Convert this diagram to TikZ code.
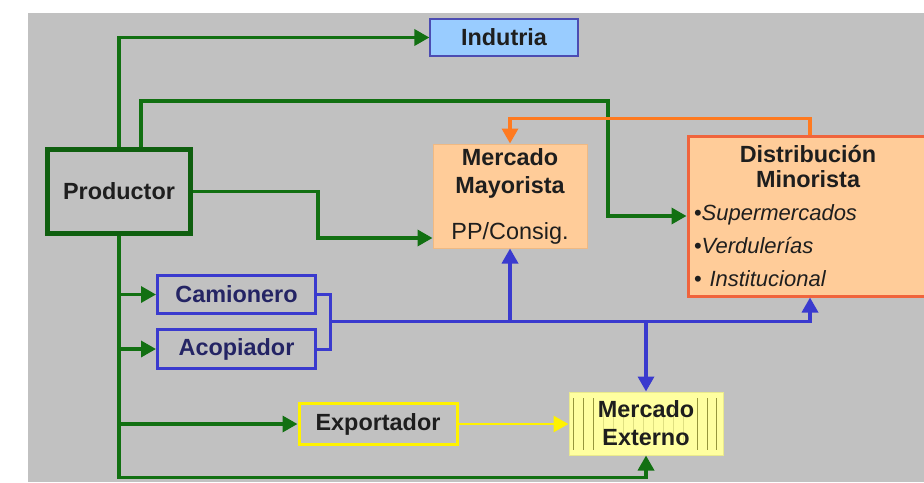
\documentclass[tikz,border=0pt]{standalone}
\usepackage{fontspec}
\setmainfont{Liberation Sans}
\usetikzlibrary{arrows.meta,calc}
\definecolor{bggray}{RGB}{193,193,193}
\definecolor{prodgreen}{RGB}{18,112,18}
\definecolor{midblue}{RGB}{58,58,206}
\definecolor{darknavy}{RGB}{36,36,100}
\definecolor{peach}{RGB}{255,204,153}
\definecolor{skyblue}{RGB}{153,204,255}
\definecolor{redorange}{RGB}{240,100,60}
\definecolor{arroworange}{RGB}{255,122,32}
\definecolor{paleyellow}{RGB}{255,255,160}
\definecolor{stripeolive}{RGB}{150,150,60}
\definecolor{textdark}{RGB}{30,30,30}

\begin{document}
\begin{tikzpicture}[x=0.5pt, y=-0.5pt, font=\fontsize{11.7}{14}\selectfont\bfseries, text=textdark,
    box/.style={draw, rectangle, align=center, inner sep=0pt},
    tip/.style={-{Triangle[length=7.5pt,width=8pt]}},
    garrow/.style={draw=prodgreen, line width=1.7pt, tip},
    barrow/.style={draw=midblue, line width=1.7pt, tip},
    stripe/.style={draw=stripeolive, line width=0.5pt}]

    \useasboundingbox (0,0) rectangle (924,482);
    \clip (0,0) rectangle (924,482);
    \fill[bggray] (28,13) rectangle (924,482);

    \node[box, fill=skyblue, draw=gray!60!blue, line width=0.6pt, minimum width=74pt, minimum height=18.5pt] (ind) at (504,37.5) {Indutria};

    \node[box, fill=bggray, draw=prodgreen!85!black, line width=2.5pt, minimum width=71.5pt, minimum height=42pt] (prod) at (119,191.5) {Productor};

    \node[box, fill=peach, draw=peach!75!brown, line width=0.5pt, minimum width=77pt, minimum height=52pt] (may) at (510,196) {Mercado\\Mayorista\\[9pt]{\mdseries PP/Consig.}};

    \node[draw=redorange, fill=peach, line width=1.5pt, text width=126pt, inner xsep=3pt, minimum height=80pt] (dist) at (820,216) {\centering\fontsize{11.7}{12.5}\selectfont\hspace*{-12pt}Distribución\\\hspace*{-12pt}Minorista\par
        \raggedright\mdseries\itshape\fontsize{11}{16.5}\selectfont {\upshape•}Supermercados\\{\upshape•}Verdulerías\\{\upshape•} Institucional\par};

    \node[box, fill=bggray, draw=midblue, line width=1.5pt, text=darknavy, minimum width=79pt, minimum height=19pt] (cam) at (236.5,294.5) {Camionero};

    \node[box, fill=bggray, draw=midblue, line width=1.5pt, text=darknavy, minimum width=79pt, minimum height=19.5pt] (aco) at (236.5,349) {Acopiador};

    \node[box, fill=bggray, draw=yellow, line width=1.5pt, minimum width=79pt, minimum height=20.5pt] (exp) at (378,424) {Exportador};

    \node[box, fill=paleyellow, draw=paleyellow!80!stripeolive, line width=0.5pt, minimum width=77pt, minimum height=31.5pt,
        path picture={
            \foreach \dx in {4,14,24,128,138,147}
                \draw[stripe] ($(path picture bounding box.north west)+(\dx,6)$) -- ++(0,52);
            \foreach \dx in {34,44,54,64,74,84,94,104,114}
                \draw[stripe, opacity=0.3] ($(path picture bounding box.north west)+(\dx,14)$) -- ++(0,36);
        }] (ext) at (646,423.5) {Mercado\\Externo};

    \draw[garrow] (prod.north) |- (ind.west);
    \draw[garrow] ($(prod.north)+(22,0)$) |- (608,101) |- (dist.west);
    \draw[garrow] (prod.east) -| (318,238) -- ($(may.west)+(0,42)$);
    \draw[garrow] (prod.south) |- ($(ext.south)+(0,22)$) -- (ext.south);
    \draw[garrow] (prod.south |- cam.west) -- (cam.west);
    \draw[garrow] (prod.south |- aco.west) -- (aco.west);
    \draw[garrow] (prod.south |- exp.west) -- (exp.west);

    \draw[draw=arroworange, line width=1.7pt, tip] ($(dist.north)+(-10,0)$) -- ++(0,-16) -| (may.north);

    \coordinate (join) at ($(cam.east)!0.5!(aco.east)+(13,0)$);
    \draw[draw=midblue, line width=1.5pt] (cam.east) -- ++(13,0) |- (aco.east);
    \draw[barrow] (join) -| ($(dist.south)+(-10,0)$);
    \draw[barrow] (join -| may.south) -- (may.south);
    \draw[barrow] (join -| ext.north) -- (ext.north);

    \draw[draw=yellow, line width=1.4pt, tip] (exp.east) -- (exp.east -| ext.west);
\end{tikzpicture}
\end{document}
